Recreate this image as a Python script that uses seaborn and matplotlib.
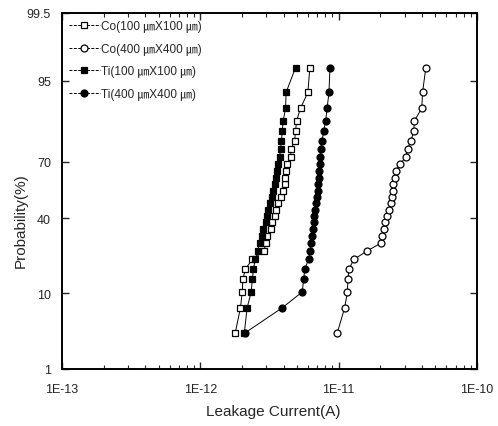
import numpy as np
import pandas as pd
import matplotlib
matplotlib.use("Agg")
import matplotlib.pyplot as plt
import matplotlib.ticker as mticker
import seaborn as sns
from statistics import NormalDist

# cumulative probability (%) for the 28 ranked devices
prob = [3.4, 6.9, 10.3, 13.8, 17.2, 20.7, 24.1, 27.6, 31.0, 34.5, 37.9, 41.4, 44.8, 48.3,
        51.7, 55.2, 58.6, 62.1, 65.5, 69.0, 72.4, 75.9, 79.3, 82.8, 86.2, 89.7, 93.1, 96.6]

co_100 = [1.79e-12, 1.95e-12, 2.01e-12, 2.03e-12, 2.12e-12, 2.38e-12, 2.89e-12, 2.96e-12,
          3.04e-12, 3.22e-12, 3.32e-12, 3.44e-12, 3.55e-12, 3.67e-12, 3.83e-12, 3.96e-12,
          4.08e-12, 4.12e-12, 4.15e-12, 4.24e-12, 4.49e-12, 4.53e-12, 4.80e-12, 4.88e-12,
          4.96e-12, 5.30e-12, 5.99e-12, 6.19e-12]
co_400 = [9.78e-12, 1.105e-11, 1.156e-11, 1.167e-11, 1.187e-11, 1.291e-11, 1.596e-11, 2.016e-11,
          2.07e-11, 2.11e-11, 2.15e-11, 2.25e-11, 2.31e-11, 2.39e-11, 2.41e-11, 2.45e-11,
          2.49e-11, 2.55e-11, 2.59e-11, 2.78e-11, 3.06e-11, 3.15e-11, 3.32e-11, 3.50e-11,
          3.52e-11, 3.99e-11, 4.04e-11, 4.27e-11]
ti_100 = [2.08e-12, 2.18e-12, 2.33e-12, 2.38e-12, 2.42e-12, 2.50e-12, 2.59e-12, 2.68e-12,
          2.77e-12, 2.86e-12, 2.96e-12, 3.03e-12, 3.11e-12, 3.19e-12, 3.27e-12, 3.35e-12,
          3.44e-12, 3.52e-12, 3.58e-12, 3.64e-12, 3.74e-12, 3.80e-12, 3.86e-12, 3.91e-12,
          3.97e-12, 4.13e-12, 4.17e-12, 4.88e-12]
ti_400 = [2.12e-12, 3.91e-12, 5.46e-12, 5.58e-12, 5.70e-12, 6.06e-12, 6.21e-12, 6.32e-12,
          6.37e-12, 6.48e-12, 6.59e-12, 6.64e-12, 6.76e-12, 6.87e-12, 6.98e-12, 7.04e-12,
          7.10e-12, 7.16e-12, 7.22e-12, 7.28e-12, 7.34e-12, 7.41e-12, 7.59e-12, 7.78e-12,
          8.05e-12, 8.25e-12, 8.51e-12, 8.65e-12]

labels = ["Co(100 \u339bX100 \u339b)", "Co(400 \u339bX400 \u339b)",
          "Ti(100 \u339bX100 \u339b)", "Ti(400 \u339bX400 \u339b)"]
y_ticks = [1, 10, 40, 70, 95, 99.5]
y_tick_labels = ["1", "10", "40", "70", "95", "99.5"]
x_ticks = [1e-13, 1e-12, 1e-11, 1e-10]
x_tick_labels = ["1E-13", "1E-12", "1E-11", "1E-10"]

sns.set_style("white")
plt.rcParams['font.family'] = ['Liberation Sans Narrow', 'Liberation Sans', 'Noto Sans CJK KR', 'DejaVu Sans']

fig = plt.figure(figsize=(4.98, 4.27), dpi=100)
ax = fig.add_axes([62/498, 1-370/427, (477-62)/498, (370-14)/427])

nd = NormalDist()
_ppf = np.vectorize(nd.inv_cdf, otypes=[float])
_cdf = np.vectorize(nd.cdf, otypes=[float])
def fwd(p):
    p = np.clip(np.asarray(p, dtype=float) / 100.0, 1e-9, 1 - 1e-9)
    return _ppf(p)
def inv(z):
    z = np.asarray(z, dtype=float)
    return 100.0 * _cdf(z)

ax.set_xscale('log')
ax.set_yscale('function', functions=(fwd, inv))

series = [(co_100, 's', 'white'), (co_400, 'o', 'white'),
          (ti_100, 's', 'black'), (ti_400, 'o', 'black')]
for (vals, mk, fc), lab in zip(series, labels):
    df = pd.DataFrame({"I": vals, "P": prob})
    sns.lineplot(data=df, x="I", y="P", ax=ax, sort=False, estimator=None,
                 color='black', lw=0.7, marker=mk, markersize=5,
                 markerfacecolor=fc, markeredgecolor='black', markeredgewidth=0.9,
                 label=lab)

ax.set_xlim(1e-13, 1e-10)
ax.set_ylim(1, 99.5)
ax.set_xticks(x_ticks)
ax.set_xticklabels(x_tick_labels)
ax.xaxis.set_minor_locator(mticker.LogLocator(base=10, subs=np.arange(2, 10)))
ax.xaxis.set_minor_formatter(mticker.NullFormatter())
ax.set_yticks(y_ticks)
ax.set_yticklabels(y_tick_labels)
ax.yaxis.set_minor_locator(mticker.NullLocator())

ax.tick_params(axis='x', which='major', direction='in', length=5, width=1.0,
               top=True, bottom=True, labelsize=9, pad=10)
ax.tick_params(axis='y', which='major', direction='in', length=5, width=1.0,
               left=True, right=True, labelsize=9, pad=8)
ax.tick_params(axis='x', which='minor', direction='in', length=3, width=0.8, top=True, bottom=True)
for s in ax.spines.values():
    s.set_linewidth(1.4)
    s.set_color('black')

ax.set_xlabel("Leakage Current(A)", fontsize=11)
ax.xaxis.set_label_coords(0.508, -0.098)
ax.set_ylabel("Probability(%)", fontsize=11)
ax.yaxis.set_label_coords(-0.082, 0.42)

leg = ax.legend(loc='upper left', frameon=False, fontsize=8.5, handlelength=2.6,
                handletextpad=0.1, labelspacing=0.9, borderaxespad=0.2,
                bbox_to_anchor=(0.0, 1.0))
for h in leg.get_lines():
    h.set_linestyle((0, (3, 1.5)))

fig.savefig("out.png", dpi=100)
